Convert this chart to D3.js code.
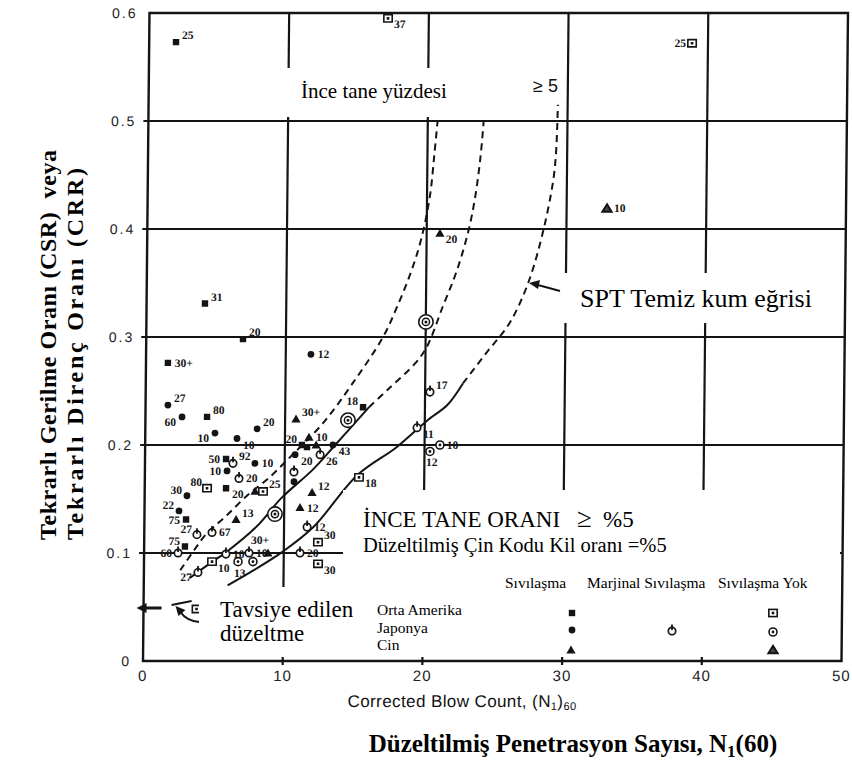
<!DOCTYPE html>
<html>
<head>
<meta charset="utf-8">
<script src="https://cdn.jsdelivr.net/npm/d3@7"></script>
<style>
  html, body { margin: 0; padding: 0; background: #fff; }
  svg { display: block; }
</style>
</head>
<body>
<svg id="chart" width="852" height="774"></svg>
<script>
// ---- axis ticks ----
const xTicks = [0, 10, 20, 30, 40, 50];
const yTicks = [0, 0.1, 0.2, 0.3, 0.4, 0.5, 0.6];
const xGrid = [10, 20, 30, 40];
const yGrid = [0.1, 0.2, 0.3, 0.4, 0.5];

// ---- boundary curves: [N1(60), CSR] ----
const curveLeft = [[2.6,0.084],[3.6,0.103],[4.4,0.117],[5.9,0.135],[7.4,0.154],[8.75,0.168],[10.4,0.189],[12.7,0.22],[14.8,0.257],[16.95,0.30],[18.0,0.33],[18.9,0.36],[19.6,0.39],[20.2,0.43],[20.5,0.47],[20.7,0.50]];
const curveMidSolid = [[3.3,0.077],[4.9,0.092],[5.9,0.101],[8.0,0.124],[9.8,0.151],[12.0,0.177],[13.6,0.2],[16.0,0.235]];
const curveMidDashed = [[16.0,0.235],[17.3,0.251],[19.3,0.276],[20.1,0.291],[21.2,0.328],[22.2,0.362],[23.0,0.399],[23.45,0.43],[23.8,0.467],[24.0,0.50]];
const curveRightSolid = [[6.0,0.070],[7.6,0.082],[9.9,0.101],[12.1,0.124],[15.2,0.172],[18.0,0.198],[20.2,0.223],[21.6,0.237],[22.7,0.257]];
const curveRightDashed = [[22.7,0.257],[24.4,0.286],[26.0,0.313],[27.3,0.35],[28.3,0.396],[29.0,0.443],[29.2,0.47],[29.3,0.515]];

// ---- case histories: [N1(60), CSR, fines label] ----
// Orta Amerika, sıvılaşma
const oaLiq = [[1.92,0.573,"25"],[4.18,0.331,"31"],[6.93,0.298,"20"],[1.57,0.276,"30+"],[4.41,0.226,"80"],[5.80,0.187,"50"],[5.82,0.160,"20"],[2.98,0.131,"75"],[2.92,0.106,"75"],[11.22,0.200,"20"],[11.59,0.198,""],[15.57,0.235,"18"]];
// Japonya, sıvılaşma
const jpLiq = [[11.80,0.284,"12"],[1.60,0.237,"27"],[2.62,0.226,"60"],[8.00,0.215,"20"],[4.99,0.211,"10"],[6.57,0.206,"10"],[7.87,0.183,"10"],[5.88,0.176,"10"],[3.03,0.153,"30"],[2.47,0.139,"22"],[10.74,0.191,"20"],[13.44,0.200,"43"],[10.68,0.166,""]];
// Çin, sıvılaşma
const cnLiq = [[20.95,0.396,"20"],[10.78,0.224,"30+"],[7.90,0.157,""],[6.56,0.131,"13"],[11.98,0.156,"12"],[11.13,0.142,"12"],[8.87,0.100,"30+"],[11.72,0.207,"10"],[12.24,0.200,""]];
// Japonya, marjinal sıvılaşma
const jpMarg = [[6.30,0.183,"92"],[6.74,0.169,"20"],[3.77,0.117,"27"],[4.85,0.119,"67"],[2.43,0.100,"60"],[11.65,0.124,"12"],[11.16,0.100,"20"],[5.86,0.099,"10"],[7.51,0.100,"10"],[10.67,0.175,""],[12.53,0.191,"26"],[20.35,0.249,"17"],[19.45,0.216,"11"],[3.87,0.082,"27"]];
// Orta Amerika, sıvılaşma yok
const oaNone = [[17.08,0.595,"37"],[38.86,0.572,"25"],[4.46,0.160,"80"],[8.47,0.157,"25"],[12.44,0.110,"30"],[12.46,0.090,"30"],[4.87,0.092,"10"],[15.33,0.170,"18"]];
// Japonya, sıvılaşma yok
const jpNone = [[21.10,0.200,"10"],[20.39,0.194,"12"],[6.73,0.092,"13"],[7.80,0.092,""]];
const jpNoneRing = [[20.01,0.314],[9.34,0.136],[14.50,0.223]];
// Çin, sıvılaşma yok
const cnNone = [[32.89,0.419,"10"]];

// ---- label placement for each series ----
const labelPlace = {
  oaLiq:  ["ru","ru","ru","r","ru","l","rd","l","lu","lu","","lu"],
  jpLiq:  ["r","ru","ld","ru","ld","rd","r","l","lu","lu","rd","rd",""],
  cnLiq:  ["rd","ru","","ru","ru","r","ul","r",""],
  jpMarg: ["ru","r","lu","r","l","r","r","r","r","","rd","ru","rd","ld"],
  oaNone: ["rd","l","lu","ru","ru","rd","rd","rd"],
  jpNone: ["r","b","b",""],
  cnNone: ["r"]
};

const svg = d3.select("#chart");
const ink = "#141414";

const x = d3.scaleLinear().domain([0, 50]).range([143, 841.5]);
const y = d3.scaleLinear().domain([0, 0.6]).range([661, 13]);

// the plotted sheet leans slightly
const sheet = svg.append("g")
  .attr("transform", `translate(0,${y(0)}) skewX(-0.573) translate(0,${-y(0)})`);

// grid
sheet.append("g").selectAll("line").data(yGrid).join("line")
  .attr("x1", x(0) - 5).attr("x2", x(50))
  .attr("y1", d => y(d)).attr("y2", d => y(d))
  .attr("stroke", ink).attr("stroke-width", 2.2);
sheet.append("g").selectAll("line").data(xGrid).join("line")
  .attr("x1", d => x(d)).attr("x2", d => x(d))
  .attr("y1", y(0.6)).attr("y2", y(0) + 4)
  .attr("stroke", ink).attr("stroke-width", 2.2);
sheet.append("rect")
  .attr("x", x(0)).attr("y", y(0.6))
  .attr("width", x(50) - x(0)).attr("height", y(0) - y(0.6))
  .attr("fill", "none").attr("stroke", ink).attr("stroke-width", 2.4);

// tick labels
const tickFont = "'Liberation Sans', Arial, sans-serif";
sheet.append("g").selectAll("text").data(yTicks).join("text")
  .attr("x", x(0) - 12).attr("y", d => y(d) + 5)
  .attr("text-anchor", "end")
  .attr("font-family", tickFont).attr("font-size", 14)
  .attr("letter-spacing", 2).attr("fill", "#222")
  .text(d => d === 0 ? "0" : d3.format(".1f")(d));
sheet.append("g").selectAll("text").data(xTicks).join("text")
  .attr("x", d => x(d)).attr("y", y(0) + 20)
  .attr("text-anchor", "middle")
  .attr("font-family", tickFont).attr("font-size", 15)
  .attr("letter-spacing", 1).attr("fill", "#222")
  .text(d => d);

const blow = sheet.append("text")
  .attr("x", 348).attr("y", 707)
  .attr("font-family", tickFont).attr("font-size", 17).attr("letter-spacing", 0.4)
  .attr("fill", "#111");
blow.append("tspan").text("Corrected Blow Count, (N");
blow.append("tspan").attr("font-size", 11).attr("dy", 3).text("1");
blow.append("tspan").attr("dy", -3).text(")");
blow.append("tspan").attr("font-size", 11).attr("dy", 3).text("60");

// boundary curves
const line = d3.line().x(d => x(d[0])).y(d => y(d[1])).curve(d3.curveCatmullRom.alpha(0.5));
const dashed = [curveLeft, curveMidDashed, curveRightDashed];
const solid = [curveMidSolid, curveRightSolid];
sheet.append("g").selectAll("path").data(dashed).join("path")
  .attr("d", line).attr("fill", "none").attr("stroke", ink)
  .attr("stroke-width", 2).attr("stroke-dasharray", "7 5");
sheet.append("g").selectAll("path").data(solid).join("path")
  .attr("d", line).attr("fill", "none").attr("stroke", ink)
  .attr("stroke-width", 2);

// symbols
function symbol(g, type, cx, cy, k = 1) {
  switch (type) {
    case "sq":
      g.append("rect").attr("x", cx - 3.2*k).attr("y", cy - 3.2*k)
        .attr("width", 6.4*k).attr("height", 6.4*k).attr("fill", ink);
      break;
    case "ci":
      g.append("circle").attr("cx", cx).attr("cy", cy).attr("r", 3.4*k).attr("fill", ink);
      break;
    case "tri":
      g.append("path").attr("d", `M${cx},${cy-4.6*k}L${cx+4.6*k},${cy+3.4*k}L${cx-4.6*k},${cy+3.4*k}Z`)
        .attr("fill", ink);
      break;
    case "trio":
      g.append("path").attr("d", `M${cx},${cy-4.2*k}L${cx+4.6*k},${cy+3.2*k}L${cx-4.6*k},${cy+3.2*k}Z`)
        .attr("fill", "#444").attr("stroke", ink).attr("stroke-width", 2);
      break;
    case "sqo":
      g.append("rect").attr("x", cx - 4.2*k).attr("y", cy - 3.6*k)
        .attr("width", 8.4*k).attr("height", 7.2*k)
        .attr("fill", "#fff").attr("stroke", ink).attr("stroke-width", 1.6);
      g.append("rect").attr("x", cx - 1.3).attr("y", cy - 1.3)
        .attr("width", 2.6).attr("height", 2.6).attr("fill", ink);
      break;
    case "cio":
      g.append("circle").attr("cx", cx).attr("cy", cy).attr("r", 4*k)
        .attr("fill", "#fff").attr("stroke", ink).attr("stroke-width", 1.6);
      g.append("circle").attr("cx", cx).attr("cy", cy).attr("r", 1.4).attr("fill", ink);
      break;
    case "phi":
      g.append("circle").attr("cx", cx).attr("cy", cy).attr("r", 3.7*k)
        .attr("fill", "#fff").attr("stroke", ink).attr("stroke-width", 1.7);
      g.append("line").attr("x1", cx).attr("x2", cx)
        .attr("y1", cy - 6.5*k).attr("y2", cy - 1)
        .attr("stroke", ink).attr("stroke-width", 1.8);
      break;
    case "ring":
      g.append("circle").attr("cx", cx).attr("cy", cy).attr("r", 7.2*k)
        .attr("fill", "#fff").attr("stroke", ink).attr("stroke-width", 1.6);
      g.append("circle").attr("cx", cx).attr("cy", cy).attr("r", 3.6*k)
        .attr("fill", "none").attr("stroke", ink).attr("stroke-width", 1.5);
      g.append("circle").attr("cx", cx).attr("cy", cy).attr("r", 1.5).attr("fill", ink);
      break;
  }
}

const labelFont = "'Liberation Serif', 'Times New Roman', serif";
const offsets = {
  r:  [7, 4, "start"],  ru: [6, -3, "start"], rd: [6, 10, "start"],
  l:  [-6, 4, "end"],   lu: [-5, -2, "end"],  ld: [-6, 9, "end"],
  ul: [1, -9, "end"],   b:  [2, 15, "middle"]
};
function series(name, data, type) {
  const g = sheet.append("g").attr("class", name);
  data.forEach((d, i) => {
    const cx = x(d[0]), cy = y(d[1]);
    symbol(g, type, cx, cy);
    const lab = d[2];
    const place = labelPlace[name] && labelPlace[name][i];
    if (lab && place) {
      const o = offsets[place];
      g.append("text").attr("x", cx + o[0]).attr("y", cy + o[1])
        .attr("text-anchor", o[2])
        .attr("font-family", labelFont).attr("font-weight", "bold")
        .attr("font-size", 11.5).attr("fill", ink).text(lab);
    }
  });
}
series("oaNone", oaNone, "sqo");
series("jpNone", jpNone, "cio");
series("jpMarg", jpMarg, "phi");
series("cnNone", cnNone, "trio");
series("oaLiq", oaLiq, "sq");
series("jpLiq", jpLiq, "ci");
series("cnLiq", cnLiq, "tri");
const ringG = sheet.append("g");
jpNoneRing.forEach(d => symbol(ringG, "ring", x(d[0]), y(d[1])));

// recommended correction arrows at the left edge
const arrows = sheet.append("g").attr("stroke", ink).attr("fill", "none");
arrows.append("line").attr("x1", 161).attr("y1", 608).attr("x2", 144).attr("y2", 608).attr("stroke-width", 3);
arrows.append("path").attr("d", "M136,608L146,603L146,613Z").attr("fill", ink).attr("stroke", "none");
arrows.append("line").attr("x1", 171).attr("y1", 605).attr("x2", 191).attr("y2", 601).attr("stroke-width", 2);
arrows.append("path").attr("d", "M199,622Q186,621 180,612").attr("stroke-width", 2);
arrows.append("path").attr("d", "M175,606L185,610L178,616Z").attr("fill", ink).attr("stroke", "none");
symbol(sheet, "sqo", 196, 609);

// ---- overlay panels ----
const panels = [[283, 68, 217, 49], [560, 273, 281, 50], [343, 490, 497, 167], [199, 587, 144, 70]];
svg.append("g").selectAll("rect").data(panels).join("rect")
  .attr("x", d => d[0]).attr("y", d => d[1]).attr("width", d => d[2]).attr("height", d => d[3])
  .attr("fill", "#fff");

const serif = "'Liberation Serif', 'Times New Roman', serif";
const over = svg.append("g").attr("font-family", serif).attr("fill", "#000");

over.append("text").attr("x", 301).attr("y", 98).attr("font-size", 21).text("İnce tane yüzdesi");
over.append("text").attr("x", 533).attr("y", 92).attr("font-family", tickFont)
  .attr("font-size", 18).attr("fill", "#111").text("≥ 5");

over.append("text").attr("x", 580).attr("y", 307).attr("font-size", 26).text("SPT Temiz kum eğrisi");
over.append("line").attr("x1", 560).attr("y1", 291).attr("x2", 538).attr("y2", 285)
  .attr("stroke", ink).attr("stroke-width", 2);
over.append("path").attr("d", "M529,283L540,280L538,289Z").attr("fill", ink);

const fines = over.append("text").attr("x", 363).attr("y", 527).attr("font-size", 23);
fines.append("tspan").text("İNCE TANE ORANI");
fines.append("tspan").attr("x", 577).attr("font-size", 27).text("≥");
fines.append("tspan").attr("x", 603).text("%5");
over.append("text").attr("x", 363).attr("y", 552).attr("font-size", 20.5)
  .text("Düzeltilmiş Çin Kodu Kil oranı =%5");

over.append("text").attr("x", 220).attr("y", 617).attr("font-size", 23).text("Tavsiye edilen");
over.append("text").attr("x", 220).attr("y", 641).attr("font-size", 23).text("düzeltme");

// legend
const headers = [["Sıvılaşma", 505], ["Marjinal Sıvılaşma", 587], ["Sıvılaşma Yok", 718]];
over.append("g").selectAll("text").data(headers).join("text")
  .attr("x", d => d[1]).attr("y", 588).attr("font-size", 15.5).text(d => d[0]);
const regions = ["Orta Amerika", "Japonya", "Cin"];
over.append("g").selectAll("text").data(regions).join("text")
  .attr("x", 377).attr("y", (d, i) => 615 + i * 17.5).attr("font-size", 15.5).text(d => d);
const legendSyms = [["sq", 572, 613], ["ci", 572, 630], ["tri", 571, 650], ["phi", 672, 631],
                    ["sqo", 773, 613], ["cio", 773, 632], ["trio", 773, 650]];
const lg = svg.append("g");
legendSyms.forEach(s => symbol(lg, s[0], s[1], s[2]));

// axis titles
const xt = svg.append("text").attr("x", 573).attr("y", 752).attr("text-anchor", "middle")
  .attr("font-family", serif).attr("font-weight", "bold").attr("font-size", 25).attr("fill", "#000");
xt.append("tspan").text("Düzeltilmiş Penetrasyon Sayısı, N");
xt.append("tspan").attr("font-size", 17).attr("dy", 5).text("1");
xt.append("tspan").attr("dy", -5).text("(60)");

const yt = svg.append("g").attr("transform", "translate(0,540) rotate(-90)")
  .attr("font-family", serif).attr("font-weight", "bold").attr("font-size", 24).attr("fill", "#000");
yt.append("text").attr("x", 0).attr("y", 56).attr("xml:space", "preserve")
  .attr("textLength", 390).attr("lengthAdjust", "spacing")
  .text("Tekrarlı Gerilme Oranı (CSR)  veya");
yt.append("text").attr("x", 0).attr("y", 83)
  .attr("textLength", 372).attr("lengthAdjust", "spacing")
  .text("Tekrarlı Direnç Oranı (CRR)");
</script>
</body>
</html>
